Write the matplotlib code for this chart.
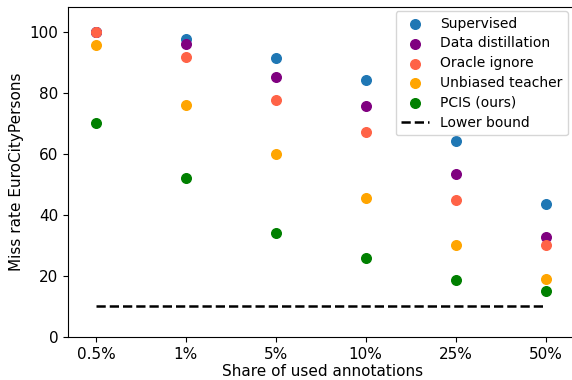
import matplotlib
matplotlib.use("Agg")
import matplotlib.pyplot as plt

shares = ["0.5%", "1%", "5%", "10%", "25%", "50%"]
supervised = [100.0, 97.7, 91.5, 84.3, 64.3, 43.6]
data_distillation = [100.0, 96.0, 85.3, 75.8, 53.4, 32.8]
oracle_ignore = [100.0, 91.7, 77.6, 67.1, 44.9, 30.2]
unbiased_teacher = [95.8, 76.2, 60.0, 45.6, 30.1, 19.0]
pcis = [70.1, 52.1, 34.2, 25.9, 18.6, 15.0]
lower_bound = 10.3

series = [
    ("Supervised", supervised, "#1f77b4"),
    ("Data distillation", data_distillation, "purple"),
    ("Oracle ignore", oracle_ignore, "tomato"),
    ("Unbiased teacher", unbiased_teacher, "orange"),
    ("PCIS (ours)", pcis, "green"),
]

fig = plt.figure(figsize=(5.72, 3.80), dpi=100)
ax = fig.add_axes([68/572, 1-337/380, (578-68)/572, (337-7)/380])
x = list(range(len(shares)))
for name, vals, col in series:
    ax.scatter(x, vals, s=48, color=col, label=name, zorder=3)
ax.plot([x[0], x[-1]], [lower_bound, lower_bound], "k--", lw=1.8, label="Lower bound")

ax.set_xticks(x)
ax.set_xticklabels(shares, fontsize=11)
ax.set_xlim(-0.31, 5.36)
ax.set_ylim(0, 108.2)
ax.set_yticks([0, 20, 40, 60, 80, 100])
ax.tick_params(axis="y", labelsize=11)
ax.set_xlabel("Share of used annotations", fontsize=11, labelpad=2)
ax.set_ylabel("Miss rate EuroCityPersons", fontsize=11)
ax.legend(loc="upper right", bbox_to_anchor=(568/572, 1-11/380),
          bbox_transform=fig.transFigure, borderaxespad=0, fontsize=10,
          labelspacing=0.42)
fig.savefig("out.png", dpi=100)
